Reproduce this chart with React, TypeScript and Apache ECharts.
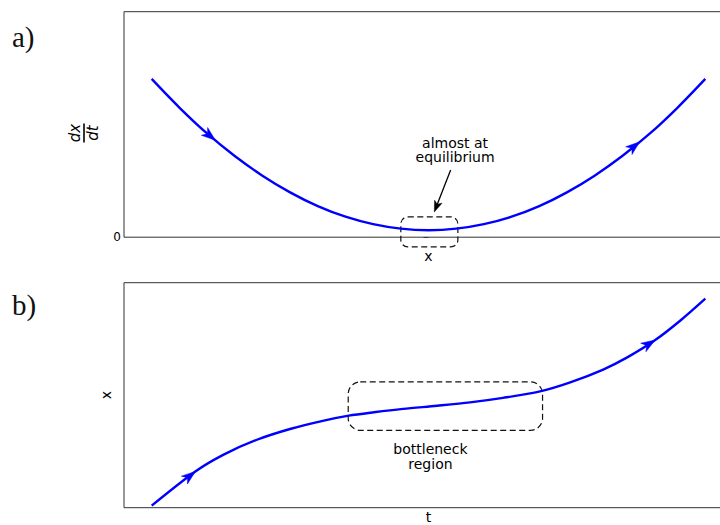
import { useEffect, useRef } from "react";
import * as echarts from "echarts";

// Panel a: rate of change dx/dt against x (a parabola that nearly touches zero)
const TOP_X = [-1.0, -0.9, -0.8, -0.7, -0.6, -0.5, -0.4, -0.3, -0.2, -0.1, 0.0, 0.1, 0.2, 0.3, 0.4, 0.5, 0.6, 0.7, 0.8, 0.9, 1.0];
const TOP_DXDT = [0.702, 0.575, 0.46, 0.36, 0.273, 0.199, 0.138, 0.091, 0.058, 0.038, 0.031, 0.038, 0.058, 0.091, 0.138, 0.199, 0.273, 0.36, 0.46, 0.575, 0.702];

// Panel b: the trajectory x(t), slow through the bottleneck
const BOT_T = [-1.0, -0.841, -0.74, -0.62, -0.497, -0.378, -0.288, -0.197, -0.092, 0.031, 0.15, 0.269, 0.403, 0.512, 0.631, 0.718, 0.819, 0.91, 1.0];
const BOT_X = [0.009, 0.162, 0.236, 0.302, 0.351, 0.387, 0.409, 0.424, 0.439, 0.453, 0.468, 0.488, 0.517, 0.557, 0.614, 0.668, 0.745, 0.832, 0.929];

// Tick labels on the dx/dt axis
const TOP_Y_TICKS = [0];

// Where the flow-direction arrowheads sit along each curve (x position of the tip)
const TOP_ARROW_TIPS = [-0.77, 0.763];
const BOT_ARROW_TIPS = [-0.842, 0.819];

const BLUE = "#0000ff";
const SANS = "DejaVu Sans";
const SERIF = "Liberation Serif";

function interp(xs: number[], ys: number[], x: number): number {
  for (let i = 0; i < xs.length - 1; i++) {
    if (x >= xs[i] && x <= xs[i + 1]) {
      const f = (x - xs[i]) / (xs[i + 1] - xs[i]);
      return ys[i] + f * (ys[i + 1] - ys[i]);
    }
  }
  return x < xs[0] ? ys[0] : ys[ys.length - 1];
}

function headPoints(tip: number[], dir: number[], L: number, W: number, notch: number) {
  const [dx, dy] = dir;
  const nx = -dy;
  const ny = dx;
  const bx = tip[0] - dx * L;
  const by = tip[1] - dy * L;
  return [
    [tip[0], tip[1]],
    [bx + nx * W, by + ny * W],
    [tip[0] - dx * L * notch, tip[1] - dy * L * notch],
    [bx - nx * W, by - ny * W],
  ];
}

function unit(a: number[], b: number[]) {
  const dx = b[0] - a[0];
  const dy = b[1] - a[1];
  const n = Math.hypot(dx, dy) || 1;
  return [dx / n, dy / n];
}

export default function App() {
  const ref = useRef<HTMLDivElement>(null);

  useEffect(() => {
    if (!ref.current) return;
    const chart = echarts.init(ref.current, null, { renderer: "svg" });

    const hiddenAxis = {
      type: "value" as const,
      min: -1.1,
      max: 1.1,
      axisLine: { show: false },
      axisTick: { show: false },
      axisLabel: { show: false },
      splitLine: { show: false },
      nameLocation: "middle" as const,
      nameTextStyle: { fontFamily: SANS, fontSize: 14, color: "#000" },
    };

    chart.setOption({
      animation: false,
      grid: [
        { left: 124, top: 11.7, width: 609, height: 225.5 },
        { left: 124, top: 282.7, width: 609, height: 225 },
      ].map((g) => ({
        ...g,
        show: true,
        outerBoundsMode: "none",
        containLabel: false,
        borderColor: "#333",
        borderWidth: 1,
        backgroundColor: "transparent",
      })),
      xAxis: [
        { ...hiddenAxis, gridIndex: 0, name: "x", nameGap: 12 },
        { ...hiddenAxis, gridIndex: 1, name: "t", nameGap: 2 },
      ],
      yAxis: [
        {
          type: "value",
          gridIndex: 0,
          min: 0,
          max: 1,
          interval: 1,
          axisLine: { show: false },
          axisTick: { show: true, length: 5, customValues: TOP_Y_TICKS, lineStyle: { color: "#333", width: 1 } },
          axisLabel: {
            show: true,
            customValues: TOP_Y_TICKS,
            formatter: (v: number) => (TOP_Y_TICKS.includes(v) ? String(v) : ""),
            fontFamily: SANS,
            fontSize: 12,
            color: "#000",
            margin: 3,
          },
          splitLine: { show: false },
        },
        {
          type: "value",
          gridIndex: 1,
          min: 0,
          max: 1,
          axisLine: { show: false },
          axisTick: { show: false },
          axisLabel: { show: false },
          splitLine: { show: false },
          name: "x",
          nameLocation: "middle",
          nameGap: 11,
          nameTextStyle: { fontFamily: SANS, fontSize: 14, color: "#000" },
        },
      ],
      series: [
        {
          type: "line",
          xAxisIndex: 0,
          yAxisIndex: 0,
          data: TOP_X.map((x, i) => [x, TOP_DXDT[i]]),
          smooth: 0.3,
          showSymbol: false,
          silent: true,
          lineStyle: { color: BLUE, width: 2.4 },
        },
        {
          type: "line",
          xAxisIndex: 1,
          yAxisIndex: 1,
          data: BOT_T.map((x, i) => [x, BOT_X[i]]),
          smooth: 0.3,
          showSymbol: false,
          silent: true,
          lineStyle: { color: BLUE, width: 2.4 },
        },
      ],
    });

    const toPx = (gridIndex: number, p: number[]) => chart.convertToPixel({ gridIndex }, p) as number[];

    const graphics: any[] = [];

    // flow arrowheads on both curves
    const addCurveArrows = (gi: number, xs: number[], ys: number[], tips: number[]) => {
      tips.forEach((u) => {
        const tip = toPx(gi, [u, interp(xs, ys, u)]);
        const back = toPx(gi, [u - 0.03, interp(xs, ys, u - 0.03)]);
        const dir = unit(back, tip);
        graphics.push({
          type: "polygon",
          silent: true,
          shape: { points: headPoints(tip, dir, 14, 5, 0.72) },
          style: { fill: BLUE, stroke: BLUE, lineWidth: 0.5 },
        });
      });
    };
    addCurveArrows(0, TOP_X, TOP_DXDT, TOP_ARROW_TIPS);
    addCurveArrows(1, BOT_T, BOT_X, BOT_ARROW_TIPS);

    // dashed rounded boxes
    const dashedBox = (gi: number, u0: number, u1: number, v0: number, v1: number, r: number) => {
      const a = toPx(gi, [u0, v1]);
      const b = toPx(gi, [u1, v0]);
      graphics.push({
        type: "rect",
        silent: true,
        shape: { x: a[0], y: a[1], width: b[0] - a[0], height: b[1] - a[1], r },
        style: { fill: "none", stroke: "#111", lineWidth: 1.2, lineDash: [6, 3.5] },
      });
    };
    dashedBox(0, -0.1, 0.106, -0.043, 0.09, 7);
    dashedBox(1, -0.29, 0.412, 0.344, 0.559, 12);

    // annotation text, one element per line
    const note = (gi: number, p: number[], lines: string[]) => {
      const q = toPx(gi, p);
      const step = 14.5;
      lines.forEach((text, i) => {
        graphics.push({
          type: "text",
          silent: true,
          style: {
            text,
            x: q[0],
            y: q[1] + (i - (lines.length - 1) / 2) * step,
            align: "center",
            verticalAlign: "middle",
            font: `14px ${SANS}`,
            fill: "#000",
          },
        });
      });
    };
    note(0, [0.096, 0.387], ["almost at", "equilibrium"]);
    note(1, [0.007, 0.227], ["bottleneck", "region"]);

    // pointer from the note to the near-equilibrium spot
    {
      const from = toPx(0, [0.08, 0.298]);
      const tip = toPx(0, [0.021, 0.112]);
      const dir = unit(from, tip);
      graphics.push({
        type: "line",
        silent: true,
        shape: { x1: from[0], y1: from[1], x2: tip[0] - dir[0] * 6, y2: tip[1] - dir[1] * 6 },
        style: { stroke: "#000", lineWidth: 1.3 },
      });
      graphics.push({
        type: "polygon",
        silent: true,
        shape: { points: headPoints(tip, dir, 11, 4, 0.75) },
        style: { fill: "#000", stroke: "#000", lineWidth: 0.5 },
      });
    }

    // dx/dt fraction as the vertical axis title of panel a
    graphics.push({
      type: "group",
      x: 84,
      y: 133,
      rotation: Math.PI / 2,
      silent: true,
      children: [
        {
          type: "text",
          style: { text: "dx", x: 0, y: -9, align: "center", verticalAlign: "middle", font: `italic 15px ${SANS}`, fill: "#000" },
        },
        { type: "line", shape: { x1: -9.5, y1: 0, x2: 9.5, y2: 0 }, style: { stroke: "#000", lineWidth: 1.6 } },
        {
          type: "text",
          style: { text: "dt", x: 0, y: 9, align: "center", verticalAlign: "middle", font: `italic 15px ${SANS}`, fill: "#000" },
        },
      ],
    });

    // panel letters
    graphics.push({
      type: "text",
      silent: true,
      style: { text: "a)", x: 12, y: 37, align: "left", verticalAlign: "middle", font: `29px ${SERIF}`, fill: "#111" },
    });
    graphics.push({
      type: "text",
      silent: true,
      style: { text: "b)", x: 12, y: 305, align: "left", verticalAlign: "middle", font: `29px ${SERIF}`, fill: "#111" },
    });

    chart.setOption({ graphic: graphics });

    return () => chart.dispose();
  }, []);

  return <div ref={ref} style={{ position: "fixed", left: 0, top: 0, width: 720, height: 525, background: "#fff" }} />;
}
